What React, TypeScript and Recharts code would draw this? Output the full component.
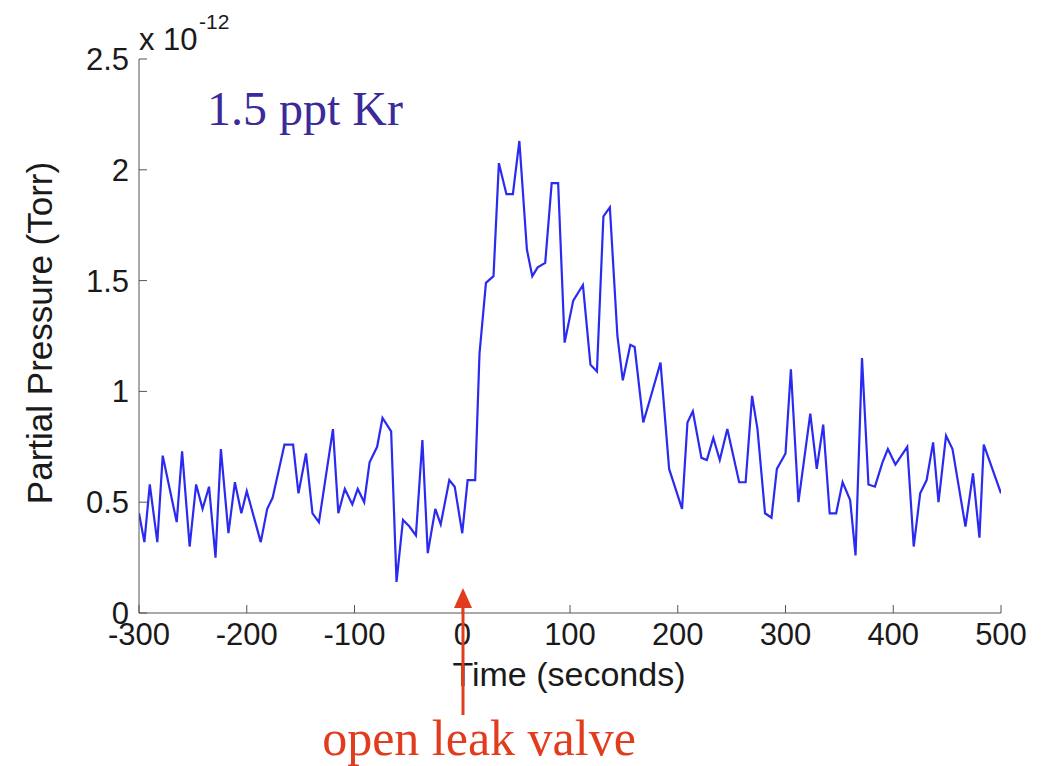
import { LineChart, Line, XAxis, YAxis } from "recharts";

// time (s) relative to opening the leak valve
const times = [
  -300, -295, -290, -283, -278, -265, -260, -253, -247, -241, -235, -229, -224, -217, -211,
  -205, -200, -187, -181, -176, -165, -157, -152, -145, -139, -133, -120, -115, -109, -102,
  -97, -91, -86, -79, -74, -66, -61, -55, -49, -43, -37, -32, -25, -20, -12, -7, 0, 5, 12,
  16, 22, 29, 34, 41, 47, 53, 60, 65, 70, 77, 83, 89, 95, 103, 112, 119, 125, 131, 137, 144,
  149, 156, 160, 168, 174, 184, 192, 204, 209, 214, 222, 227, 233, 239, 246, 257, 263, 269,
  274, 281, 287, 292, 300, 305, 312, 323, 329, 335, 341, 347, 353, 360, 365, 371, 377, 383,
  390, 395, 402, 413, 419, 425, 431, 437, 442, 449, 455, 467, 474, 480, 484, 500,
];

// partial pressure, units of 1e-12 Torr
const pressure = [
  0.45, 0.32, 0.58, 0.32, 0.71, 0.41, 0.73, 0.3, 0.58, 0.47, 0.57, 0.25, 0.74, 0.36, 0.59,
  0.45, 0.55, 0.32, 0.47, 0.52, 0.76, 0.76, 0.54, 0.72, 0.45, 0.41, 0.83, 0.45, 0.56, 0.49,
  0.56, 0.5, 0.68, 0.75, 0.88, 0.82, 0.14, 0.42, 0.39, 0.35, 0.78, 0.27, 0.47, 0.4, 0.6, 0.57,
  0.36, 0.6, 0.6, 1.17, 1.49, 1.52, 2.03, 1.89, 1.89, 2.13, 1.64, 1.52, 1.56, 1.58, 1.94,
  1.94, 1.22, 1.41, 1.48, 1.12, 1.09, 1.79, 1.83, 1.25, 1.05, 1.21, 1.2, 0.86, 0.96, 1.13,
  0.65, 0.47, 0.86, 0.91, 0.7, 0.69, 0.79, 0.69, 0.83, 0.59, 0.59, 0.98, 0.83, 0.45, 0.43,
  0.65, 0.72, 1.1, 0.5, 0.9, 0.65, 0.85, 0.45, 0.45, 0.59, 0.51, 0.26, 1.15, 0.58, 0.57,
  0.68, 0.74, 0.67, 0.75, 0.3, 0.54, 0.6, 0.77, 0.5, 0.8, 0.74, 0.39, 0.63, 0.34, 0.76, 0.54,
];

const xTicks = [-300, -200, -100, 0, 100, 200, 300, 400, 500];
const yTicks = [0, 0.5, 1, 1.5, 2, 2.5];

const data = times.map((t, i) => ({ t, p: pressure[i] }));

const font = "'Liberation Sans', Arial, sans-serif";
const serif = "'Liberation Serif', 'Times New Roman', serif";
const axisColor = "#555";
const tickStyle = { fontSize: 31, fontFamily: font, fill: "#1a1a1a" };

export default function App() {
  return (
    <div
      style={{
        position: "fixed",
        top: 0,
        left: 0,
        width: 1043,
        height: 766,
        background: "#fff",
      }}
    >
      <LineChart
        width={1043}
        height={766}
        data={data}
        margin={{ top: 59, right: 42, bottom: 113, left: 79 }}
      >
        <XAxis
          dataKey="t"
          type="number"
          domain={[-300, 500]}
          ticks={xTicks}
          allowDataOverflow
          height={40}
          stroke={axisColor}
          tickSize={-8}
          tickMargin={18}
          tick={tickStyle}
          interval={0}
        />
        <XAxis
          xAxisId="top"
          orientation="top"
          type="number"
          domain={[-300, 500]}
          ticks={xTicks}
          height={0}
          stroke={axisColor}
          tickSize={-8}
          tickFormatter={() => ""}
        />
        <YAxis
          type="number"
          domain={[0, 2.5]}
          ticks={yTicks}
          width={60}
          stroke={axisColor}
          tickSize={-8}
          tickMargin={18}
          tick={tickStyle}
          interval={0}
        />
        <YAxis
          yAxisId="right"
          orientation="right"
          type="number"
          domain={[0, 2.5]}
          ticks={yTicks}
          width={0}
          stroke={axisColor}
          tickSize={-8}
          tickFormatter={() => ""}
        />
        <Line
          dataKey="p"
          type="linear"
          stroke="#2a2af0"
          strokeWidth={2.2}
          dot={false}
          isAnimationActive={false}
        />
      </LineChart>

      <svg
        width={1043}
        height={766}
        style={{ position: "absolute", top: 0, left: 0, pointerEvents: "none" }}
      >
        <text x={139} y={50} fontSize={31} fontFamily={font} fill="#1a1a1a">
          x 10
        </text>
        <text x={199} y={29} fontSize={21} fontFamily={font} fill="#1a1a1a">
          -12
        </text>
        <text x={207} y={125} fontSize={48} fontFamily={serif} fill="#3b2a9a">
          1.5 ppt Kr
        </text>
        <text
          transform="translate(52,333) rotate(-90)"
          textAnchor="middle"
          fontSize={35}
          fontFamily={font}
          fill="#1a1a1a"
        >
          Partial Pressure (Torr)
        </text>
        <text x={569} y={686} textAnchor="middle" fontSize={34} fontFamily={font} fill="#1a1a1a">
          Time (seconds)
        </text>
        <line x1={463} y1={715} x2={463} y2={604} stroke="#e23c1f" strokeWidth={3} />
        <polygon points="463,588 454,608 472,608" fill="#e23c1f" />
        <text x={479} y={755} textAnchor="middle" fontSize={50} fontFamily={serif} fill="#e23c1f">
          open leak valve
        </text>
      </svg>
    </div>
  );
}
